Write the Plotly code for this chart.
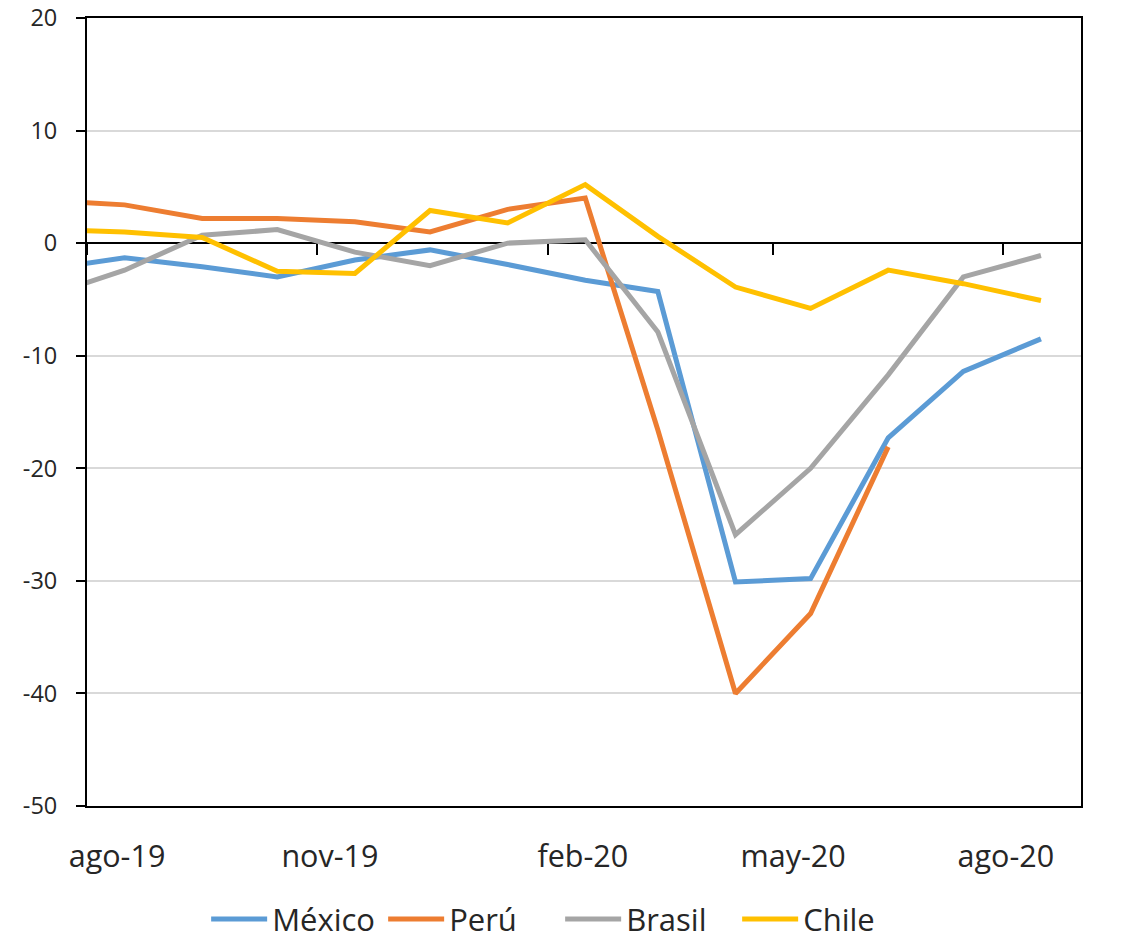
import plotly.graph_objects as go

months = ["2019-07-16", "2019-08-16", "2019-09-16", "2019-10-16", "2019-11-16", "2019-12-16",
          "2020-01-16", "2020-02-16", "2020-03-16", "2020-04-16", "2020-05-16", "2020-06-16",
          "2020-07-16", "2020-08-16"]
mexico = [-2.3, -1.3, -2.1, -3.0, -1.5, -0.6, -1.9, -3.3, -4.3, -30.1, -29.8, -17.3, -11.4, -8.5]
peru = [3.8, 3.4, 2.2, 2.2, 1.9, 1.0, 3.0, 4.0, -16.6, -40.0, -32.9, -18.1, None, None]
brasil = [-4.7, -2.4, 0.7, 1.2, -0.8, -2.0, 0.0, 0.3, -7.9, -25.9, -20.0, -11.7, -3.0, -1.1]
chile = [1.2, 1.0, 0.5, -2.5, -2.7, 2.9, 1.8, 5.2, 0.6, -3.9, -5.8, -2.4, -3.6, -5.1]

series_names = ["México", "Perú", "Brasil", "Chile"]
series_colors = ["#5B9BD5", "#ED7D31", "#A5A5A5", "#FFC000"]

tick_dates = ["2019-08-13", "2019-11-06", "2020-02-15", "2020-05-09", "2020-08-02"]
tick_labels = ["ago-19", "nov-19", "feb-20", "may-20", "ago-20"]

y_ticks = [20, 10, 0, -10, -20, -30, -40, -50]
y_tick_labels = ["20", "10", "0", "-10", "-20", "-30", "-40", "-50"]

FONT = "Open Sans"

fig = go.Figure()
for name, vals, col in zip(series_names, [mexico, peru, brasil, chile], series_colors):
    fig.add_trace(go.Scatter(x=months, y=vals, name=name, mode="lines",
                             line=dict(color=col, width=5), connectgaps=False))

# invisible helper trace so the zero-crossing axis is drawn
fig.add_trace(go.Scatter(x=[months[0]], y=[None], xaxis="x2", showlegend=False,
                         hoverinfo="skip", mode="lines"))

xrange = ["2019-08-01", "2020-09-01"]

fig.update_layout(
    width=1116, height=933,
    margin=dict(l=79, r=43, t=10, b=135, autoexpand=False),
    paper_bgcolor="white", plot_bgcolor="white",
    font=dict(family=FONT, color="#262626"),
    showlegend=True,
    legend=dict(orientation="h", x=0.476, xanchor="center", y=-0.144, yanchor="middle",
                font=dict(size=31, family=FONT, color="#262626"),
                itemwidth=56, entrywidth=106, entrywidthmode="pixels",
                traceorder="normal", bgcolor="rgba(0,0,0,0)"),
    xaxis=dict(type="date", range=xrange, showgrid=False, zeroline=False,
               showline=True, mirror=True, linecolor="black", linewidth=2,
               ticks="", tickvals=tick_dates, ticktext=tick_labels,
               tickfont=dict(size=30.5, family=FONT, color="#262626"),
               ticklabelstandoff=22, ticklabeloverflow="allow"),
    xaxis2=dict(type="date", range=xrange, overlaying="x", anchor="free",
                position=50 / 70, side="bottom", showgrid=False, zeroline=False,
                showline=True, linecolor="black", linewidth=2,
                ticks="outside", ticklen=11, tickwidth=2, tickcolor="black",
                tick0="2019-08-01", dtick="M3", showticklabels=False,
                layer="below traces"),
    yaxis=dict(range=[-50, 20], tickvals=y_ticks, ticktext=y_tick_labels,
               showgrid=True, gridcolor="#D9D9D9",
               gridwidth=1.5, zeroline=False, showline=True, mirror=True,
               linecolor="black", linewidth=2, ticks="outside", ticklen=9,
               tickwidth=2, tickcolor="black",
               tickfont=dict(size=23.5, family=FONT, color="#262626"),
               ticklabelstandoff=14, ticklabeloverflow="allow"),
)

fig.write_html("out.html")
